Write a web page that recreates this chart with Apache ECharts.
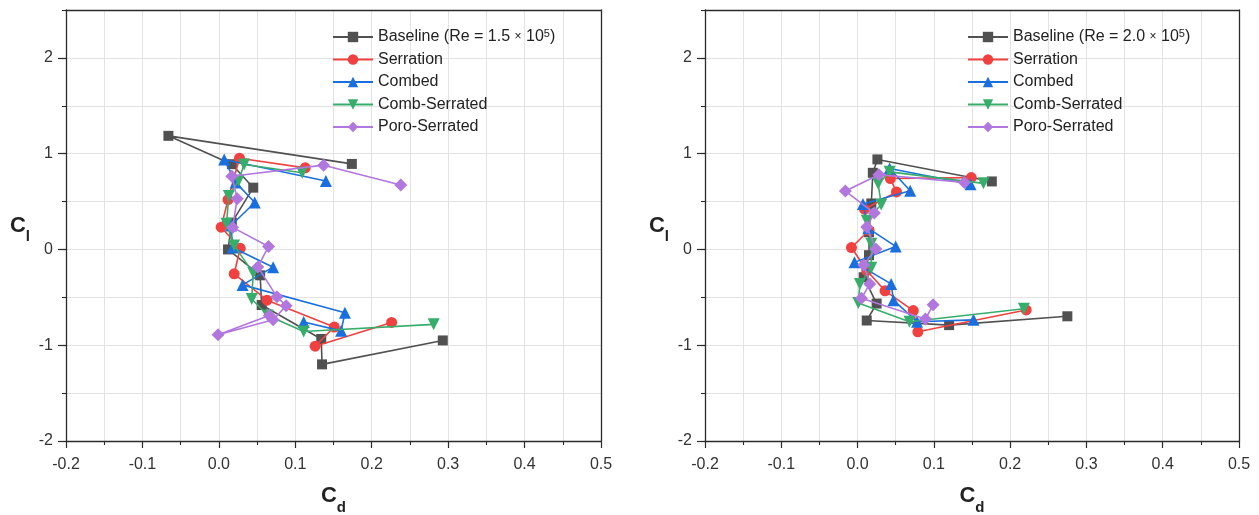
<!DOCTYPE html>
<html>
<head>
<meta charset="utf-8">
<script src="https://cdn.jsdelivr.net/npm/echarts@6/dist/echarts.min.js"></script>
<style>
  html, body { margin: 0; padding: 0; background: #fff; }
  #chart { width: 1259px; height: 515px; }
</style>
</head>
<body>
<div id="chart"></div>
<script>
// Drag polars (Cd, Cl) for the five trailing-edge configurations at two Reynolds numbers.
const seriesNames = ['Baseline', 'Serration', 'Combed', 'Comb-Serrated', 'Poro-Serrated'];
const reLabels = ['1.5', '2.0'];

const xTicks = [-0.2, -0.1, 0.0, 0.1, 0.2, 0.3, 0.4, 0.5];
const yTicks = [-2, -1, 0, 1, 2];

// Re = 1.5 x 10^5, points as [Cd, Cl]
const baseline15 = [[0.293, -0.95], [0.135, -1.2], [0.134, -0.935], [0.056, -0.58], [0.054, -0.27], [0.012, 0.0], [0.017, 0.28], [0.045, 0.645], [0.017, 0.89], [-0.066, 1.186], [0.174, 0.893]];
const serration15 = [[0.226, -0.762], [0.126, -1.01], [0.151, -0.81], [0.063, -0.53], [0.020, -0.254], [0.028, 0.012], [0.003, 0.232], [0.012, 0.52], [0.027, 0.952], [0.113, 0.852]];
const combed15 = [[0.111, -0.757], [0.160, -0.85], [0.165, -0.66], [0.031, -0.37], [0.071, -0.185], [0.018, 0.02], [0.016, 0.25], [0.047, 0.49], [0.022, 0.70], [0.007, 0.94], [0.140, 0.715]];
const combSerrated15 = [[0.281, -0.782], [0.111, -0.857], [0.064, -0.69], [0.043, -0.518], [0.045, -0.245], [0.020, 0.04], [0.010, 0.268], [0.013, 0.557], [0.026, 0.72], [0.033, 0.887], [0.109, 0.80]];
const poroSerrated15 = [[0.066, -0.69], [-0.001, -0.89], [0.071, -0.735], [0.088, -0.588], [0.076, -0.495], [0.051, -0.182], [0.065, 0.031], [0.018, 0.23], [0.024, 0.53], [0.017, 0.765], [0.137, 0.88], [0.238, 0.672]];

// Re = 2.0 x 10^5, points as [Cd, Cl]
const baseline20 = [[0.275, -0.698], [0.120, -0.79], [0.012, -0.742], [0.025, -0.565], [0.008, -0.29], [0.015, -0.06], [0.015, 0.18], [0.018, 0.48], [0.020, 0.80], [0.026, 0.94], [0.176, 0.71]];
const serration20 = [[0.221, -0.632], [0.079, -0.86], [0.073, -0.638], [0.036, -0.432], [0.012, -0.22], [-0.008, 0.02], [0.015, 0.2], [0.009, 0.42], [0.051, 0.60], [0.043, 0.74], [0.149, 0.75]];
const combed20 = [[0.152, -0.735], [0.078, -0.755], [0.047, -0.53], [0.044, -0.36], [-0.004, -0.135], [0.050, 0.032], [0.014, 0.22], [0.007, 0.475], [0.069, 0.612], [0.042, 0.845], [0.148, 0.68]];
const combSerrated20 = [[0.218, -0.62], [0.068, -0.755], [0.001, -0.56], [0.003, -0.362], [0.018, -0.19], [0.018, 0.06], [0.012, 0.30], [0.031, 0.47], [0.027, 0.685], [0.042, 0.81], [0.165, 0.69]];
const poroSerrated20 = [[0.099, -0.578], [0.089, -0.726], [0.005, -0.51], [0.016, -0.36], [0.008, -0.163], [0.024, 0.005], [0.012, 0.235], [0.022, 0.38], [-0.016, 0.61], [0.028, 0.78], [0.140, 0.70]];

const panels = [
  [baseline15, serration15, combed15, combSerrated15, poroSerrated15],
  [baseline20, serration20, combed20, combSerrated20, poroSerrated20]
];

const colors = ['#515151', '#F14040', '#1A6FDF', '#37AD6B', '#B177DE'];
const symbols = ['rect', 'circle', 'triangle', 'triangle', 'diamond'];
const symbolRotates = [0, 0, 0, 180, 0];
const symbolSizes = [10, 11, 12, 12, [13, 13]];

const FONT = '"Liberation Sans", Arial, sans-serif';
const gridBoxes = [
  { left: 66, top: 10, width: 535, height: 431 },
  { left: 705, top: 10, width: 534, height: 431 }
];
const legendLeft = [332, 967];

const X_MIN = xTicks[0], X_MAX = xTicks[xTicks.length - 1];
const Y_MIN = yTicks[0], Y_MAX = 2.5;

const gridColor = '#e3e3e3';
const axisColor = '#2b2b2b';
const textColor = '#333';

const titleRich = {
  c: { fontFamily: FONT, fontSize: 22, fontWeight: 'bold', color: '#222', lineHeight: 30, verticalAlign: 'top' },
  s: { fontFamily: FONT, fontSize: 15, fontWeight: 'bold', color: '#222', lineHeight: 30, verticalAlign: 'bottom', padding: [14, 0, 0, 0] }
};

function nameFor(p, i) {
  return i === 0 ? 'Baseline (Re = ' + reLabels[p] + ' × 10^5)' : seriesNames[i];
}

const option = {
  animation: false,
  backgroundColor: '#ffffff',
  grid: gridBoxes.map(g => Object.assign({ containLabel: false, outerBoundsMode: 'none' }, g)),
  xAxis: [],
  yAxis: [],
  legend: [],
  series: []
};

gridBoxes.forEach((g, p) => {
  const xBase = option.xAxis.length;
  const yBase = option.yAxis.length;

  // bottom axis: labels, major and minor ticks, grid
  option.xAxis.push({
    type: 'value', gridIndex: p, position: 'bottom',
    min: X_MIN, max: X_MAX, interval: 0.1,
    name: '{c|C}{s|d}', nameLocation: 'middle', nameGap: 44,
    nameTextStyle: { rich: titleRich },
    axisLine: { show: true, onZero: false, lineStyle: { color: axisColor, width: 1.3 } },
    axisTick: { show: true, inside: false, length: 7, lineStyle: { color: axisColor, width: 1.2 } },
    minorTick: { show: true, splitNumber: 2, length: 4, lineStyle: { color: axisColor, width: 1.1 } },
    splitLine: { show: true, lineStyle: { color: gridColor, width: 1 } },
    minorSplitLine: { show: true, lineStyle: { color: gridColor, width: 1 } },
    axisLabel: {
      margin: 16, fontFamily: FONT, fontSize: 16, color: textColor,
      formatter: v => (Math.abs(v) < 1e-9 ? '0.0' : (+v.toFixed(2)).toString())
    }
  });
  // top frame line
  option.xAxis.push({
    type: 'value', gridIndex: p, position: 'top',
    min: X_MIN, max: X_MAX, interval: 0.1,
    axisLine: { show: true, onZero: false, lineStyle: { color: axisColor, width: 1.3 } },
    axisTick: { show: false }, axisLabel: { show: false }, splitLine: { show: false }
  });

  // left axis: labels and major ticks
  option.yAxis.push({
    type: 'value', gridIndex: p, position: 'left',
    min: Y_MIN, max: Y_MAX, interval: 1,
    name: '{c|C}{s|l}', nameLocation: 'middle', nameRotate: 0, nameGap: 36,
    nameTextStyle: { rich: titleRich, padding: [8, 0, 0, 0] },
    axisLine: { show: true, onZero: false, lineStyle: { color: axisColor, width: 1.3 } },
    axisTick: { show: true, inside: false, length: 8, lineStyle: { color: axisColor, width: 1.2 } },
    splitLine: { show: false },
    axisLabel: {
      margin: 13, fontFamily: FONT, fontSize: 16, color: textColor, showMaxLabel: false,
      formatter: v => (yTicks.indexOf(v) >= 0 ? String(v) : '')
    }
  });
  // left axis: half-unit minor ticks and horizontal grid
  option.yAxis.push({
    type: 'value', gridIndex: p, position: 'left',
    min: Y_MIN, max: Y_MAX, interval: 0.5,
    axisLine: { show: false, onZero: false },
    axisTick: { show: true, inside: false, length: 4, lineStyle: { color: axisColor, width: 1.1 } },
    splitLine: { show: true, lineStyle: { color: gridColor, width: 1 } },
    axisLabel: { show: false }
  });
  // right frame line
  option.yAxis.push({
    type: 'value', gridIndex: p, position: 'right',
    min: Y_MIN, max: Y_MAX, interval: 1,
    axisLine: { show: true, onZero: false, lineStyle: { color: axisColor, width: 1.3 } },
    axisTick: { show: false }, axisLabel: { show: false }, splitLine: { show: false }
  });

  const names = [];
  panels[p].forEach((pts, i) => {
    const nm = nameFor(p, i);
    names.push(nm);
    option.series.push({
      type: 'line',
      name: nm,
      xAxisIndex: xBase,
      yAxisIndex: yBase,
      data: pts,
      color: colors[i],
      symbol: symbols[i],
      symbolRotate: symbolRotates[i],
      symbolSize: symbolSizes[i],
      showAllSymbol: true,
      lineStyle: { width: 1.6, color: colors[i] },
      itemStyle: { color: colors[i], opacity: 1 },
      z: 3 + i
    });
  });

  option.legend.push({
    data: names,
    orient: 'vertical',
    left: legendLeft[p],
    top: 28,
    padding: 0,
    itemWidth: 40,
    itemHeight: 13,
    itemGap: 4.5,
    selectedMode: false,
    textStyle: {
      fontFamily: FONT, fontSize: 16, color: '#222', lineHeight: 18,
      rich: {
        n: { fontFamily: FONT, fontSize: 16, color: '#222', lineHeight: 18 },
        x: { fontFamily: FONT, fontSize: 12, color: '#222', lineHeight: 18 },
        sup: { fontFamily: FONT, fontSize: 11, color: '#222', lineHeight: 18, verticalAlign: 'top', padding: [0, 0, 6, 0] }
      }
    },
    formatter: function (name) {
      const m = name.match(/^(.*) × 10\^(\d)\)$/);
      if (m) return '{n|' + m[1] + ' }{x|×}{n| 10}{sup|' + m[2] + '}{n|)}';
      return '{n|' + name + '}';
    }
  });
});

const chart = echarts.init(document.getElementById('chart'), null, { renderer: 'canvas' });
chart.setOption(option);
</script>
</body>
</html>
